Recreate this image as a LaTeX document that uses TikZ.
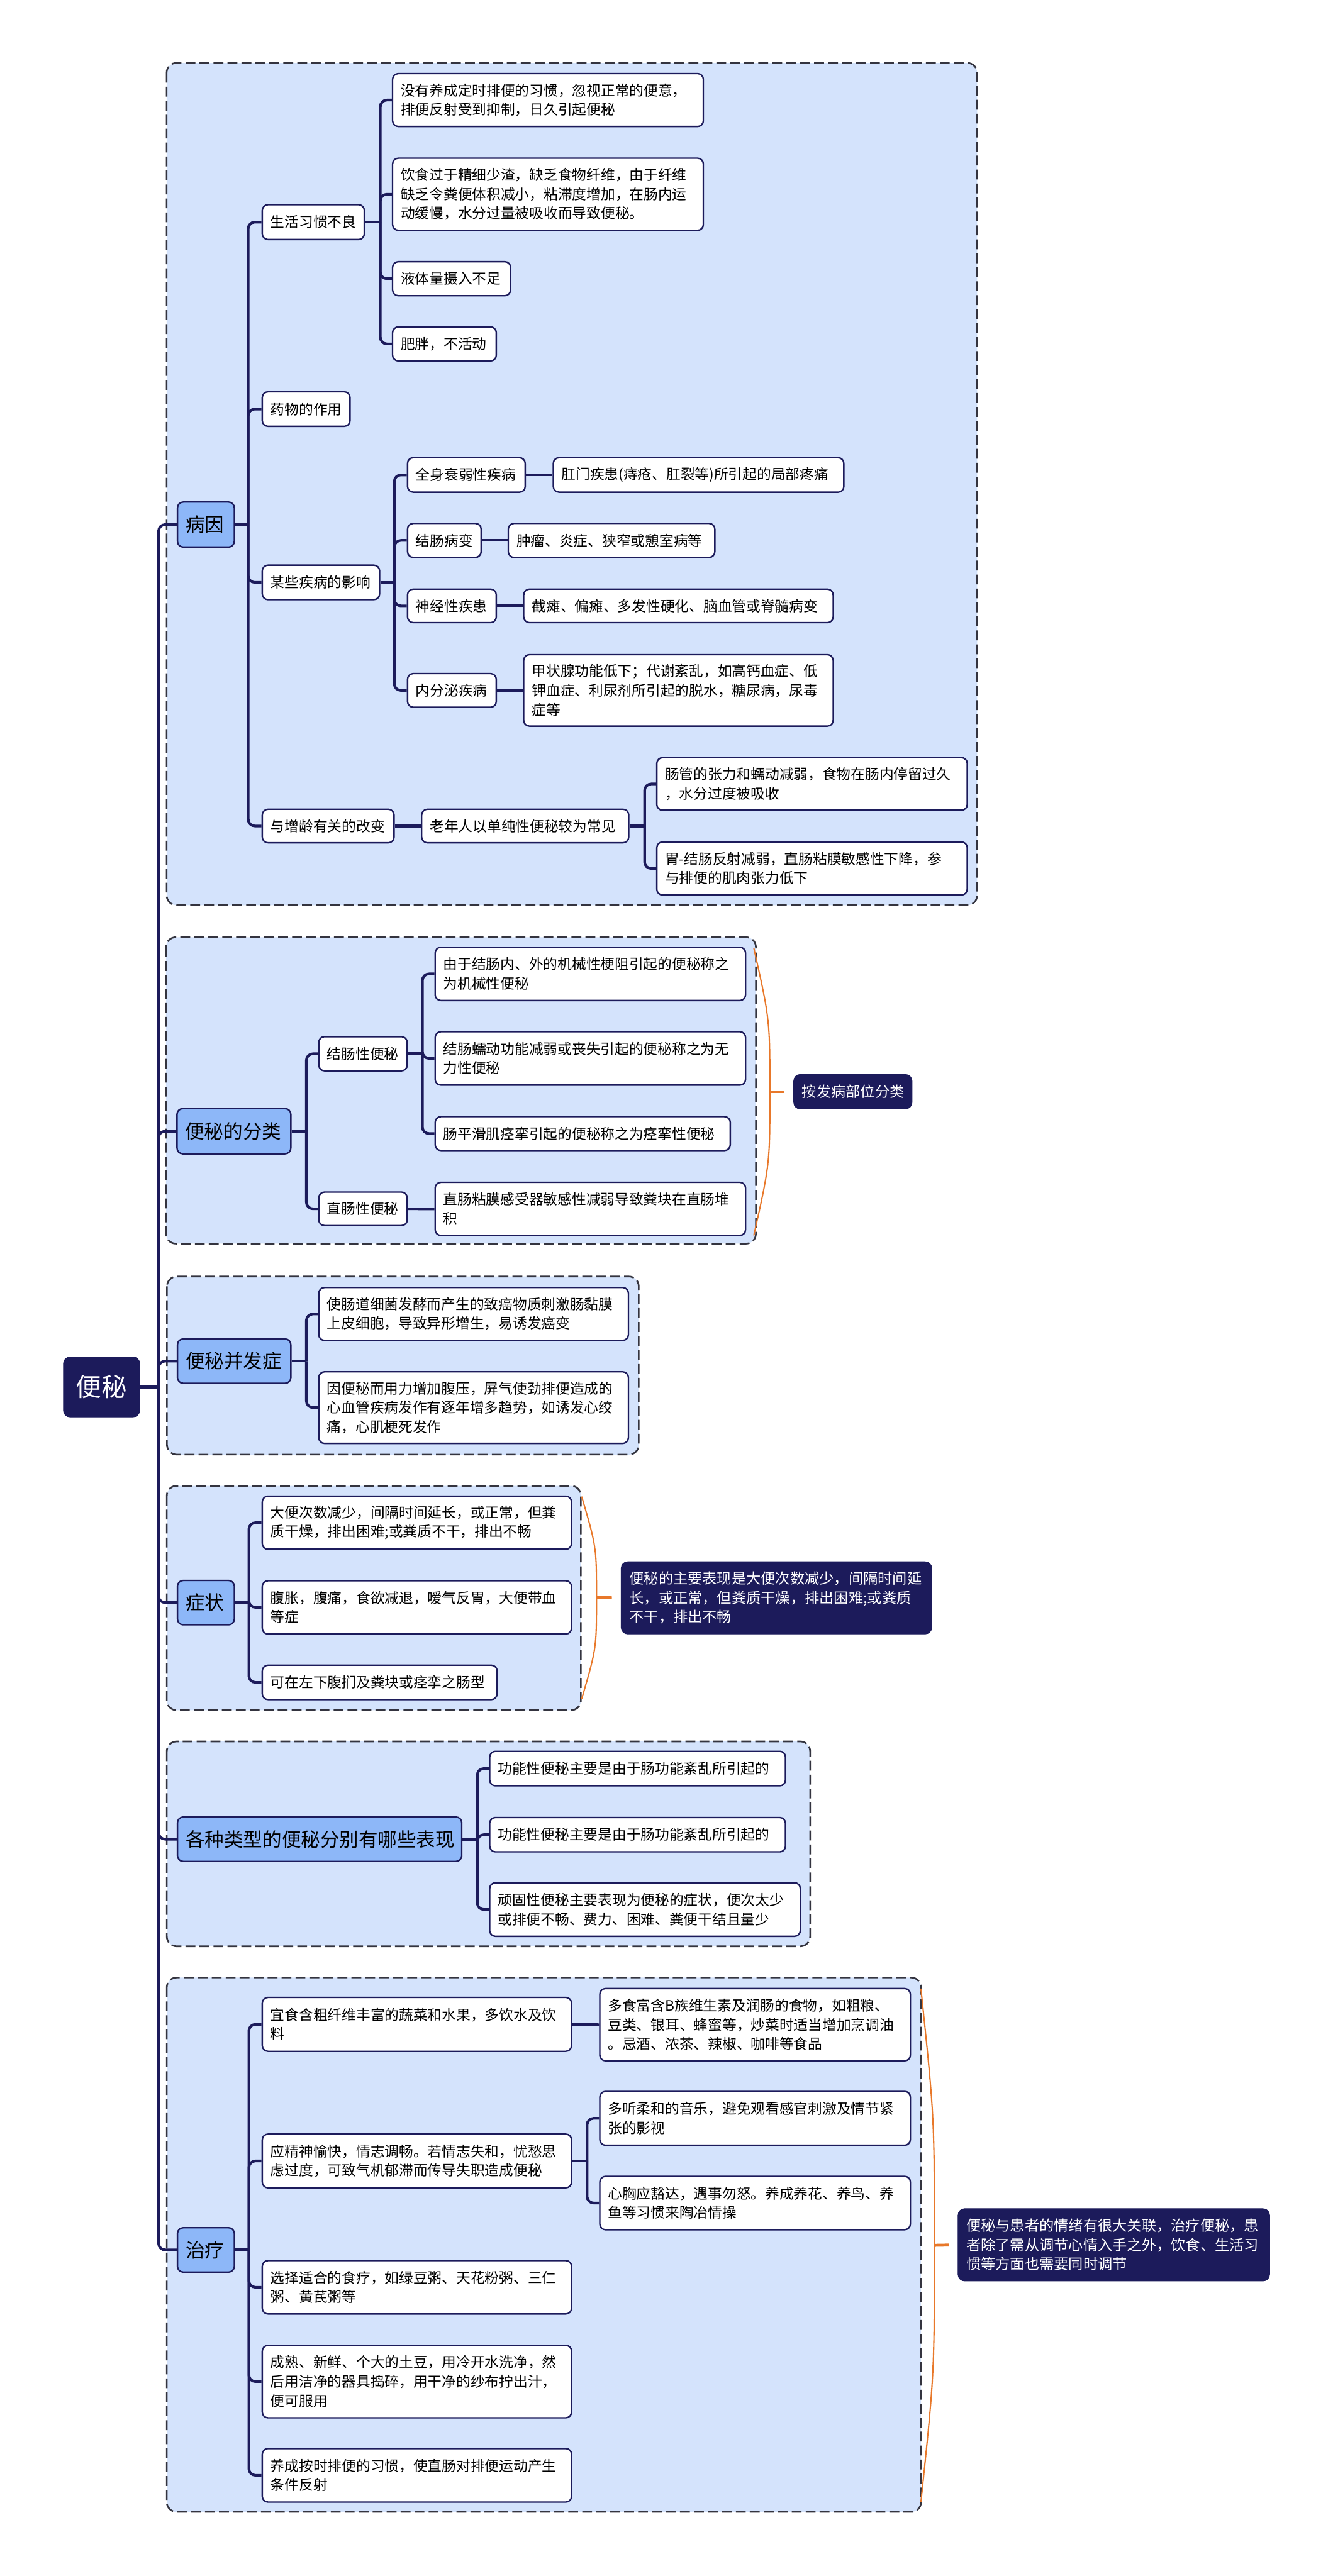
\documentclass[tikz,border=0pt]{standalone}
\usepackage{fontspec}
\setmainfont{Noto Sans CJK SC}
\usetikzlibrary{calc}
\definecolor{mnavy}{HTML}{1C1B5B}
\definecolor{grpfill}{HTML}{D4E3FC}
\definecolor{lvfill}{HTML}{8DB7F8}
\definecolor{brc}{HTML}{E8782A}
\definecolor{gline}{HTML}{34343F}
\newcommand\mkbox[7]{%
  \pgfmathsetmacro\mkW{#4-#2}%
  \pgfmathsetmacro\mkH{#5-#3}%
  \pgfmathsetmacro\mkT{#4-#2-10}%
  \pgfmathsetmacro\mkX{(#2+#4)/2}%
  \pgfmathsetmacro\mkY{(#3+#5)/2}%
  \node[#6, minimum width=\mkW pt, minimum height=\mkH pt, text width=\mkT pt] (#1) at (\mkX,\mkY) {#7};}
\newcommand\mkgrp[4]{\draw[grp] (#1,#2) rectangle (#3,#4);}
\newcommand\mkbrace[5]{%
  \pgfmathsetmacro\brM{(#3+#4)/2}%
  \pgfmathsetmacro\brU{(#3+\brM)/2}%
  \pgfmathsetmacro\brL{(\brM+#4)/2}%
  \coordinate (#1t) at (#2,#3);
  \coordinate (#1m) at (#5,\brM);
  \coordinate (#1b) at (#2,#4);
  \draw[brace] (#1t) .. controls (#5,\brU) .. (#1m) .. controls (#5,\brL) .. (#1b);}
\begin{document}
\begin{tikzpicture}[x=1pt,y=-1pt,
  rootbox/.style={fill=mnavy, draw=mnavy, rounded corners=4pt, text=white, font=\fontsize{15.5}{18}\selectfont, align=center, inner xsep=5pt, inner ysep=0pt},
  lvone/.style={fill=lvfill, draw=mnavy, line width=0.9pt, rounded corners=3.5pt, font=\fontsize{11.7}{14}\selectfont, align=left, inner xsep=5pt, inner ysep=0pt},
  leaf/.style={fill=white, draw=mnavy, line width=0.9pt, rounded corners=3.5pt, font=\fontsize{8.7}{11.7}\selectfont, align=left, inner xsep=5pt, inner ysep=0pt},
  note/.style={fill=mnavy, draw=mnavy, rounded corners=4pt, text=white, font=\fontsize{8.9}{11.7}\selectfont, align=left, inner xsep=5pt, inner ysep=0pt},
  grp/.style={fill=grpfill, draw=gline, line width=1pt, dash pattern=on 6pt off 2.5pt, rounded corners=6pt},
  conn/.style={draw=mnavy, line width=1.6pt},
  brace/.style={draw=brc, line width=0.8pt},
  tick/.style={draw=brc, line width=1.8pt, shorten >=5.5pt},
  rc/.style={rounded corners=4pt}]
\fill[white] (0,0) rectangle (811,1568);
\useasboundingbox (0,0) rectangle (811,1568);

% groups
\mkgrp{101.4}{38.3}{594.6}{551}
\mkgrp{101}{570.5}{460}{757}
\mkgrp{101.6}{777}{388.7}{885.4}
\mkgrp{101.5}{904.4}{353.5}{1041}
\mkgrp{101.5}{1060}{493}{1184.7}
\mkgrp{101.5}{1203.7}{560.5}{1529}

% root
\mkbox{root}{38.6}{826}{85}{862.5}{rootbox}{便秘}

% level one
\mkbox{A}{108}{305.6}{142.6}{333}{lvone}{病因}
\mkbox{B}{107.7}{674.8}{177}{702.3}{lvone}{便秘的分类}
\mkbox{C}{108}{815}{177}{842}{lvone}{便秘并发症}
\mkbox{D}{108}{962}{142.6}{989}{lvone}{症状}
\mkbox{E}{108}{1106}{281}{1133}{lvone}{各种类型的便秘分别有哪些表现}
\mkbox{F}{108}{1356}{142.6}{1383}{lvone}{治疗}

% 病因
\mkbox{a1}{159.6}{124.6}{221.7}{145.8}{leaf}{生活习惯不良}
\mkbox{a2}{159.6}{238.5}{213}{259.5}{leaf}{药物的作用}
\mkbox{a3}{159.6}{344}{231}{365}{leaf}{某些疾病的影响}
\mkbox{a4}{159.6}{492.6}{239.8}{513}{leaf}{与增龄有关的改变}
\mkbox{a11}{238.9}{44.8}{428}{77}{leaf}{没有养成定时排便的习惯，忽视正常的便意，\\排便反射受到抑制，日久引起便秘}
\mkbox{a12}{238.9}{96.3}{428}{140.2}{leaf}{饮食过于精细少渣，缺乏食物纤维，由于纤维\\缺乏令粪便体积减小，粘滞度增加，在肠内运\\动缓慢，水分过量被吸收而导致便秘。}
\mkbox{a13}{238.9}{159.3}{310.7}{180}{leaf}{液体量摄入不足}
\mkbox{a14}{238.9}{199}{302}{219.7}{leaf}{肥胖，不活动}
\mkbox{a31}{248}{278.6}{319.6}{299.6}{leaf}{全身衰弱性疾病}
\mkbox{a31x}{336.7}{278.6}{513.5}{299.6}{leaf}{肛门疾患(痔疮、肛裂等)所引起的局部疼痛}
\mkbox{a32}{248}{318.6}{292.8}{339.3}{leaf}{结肠病变}
\mkbox{a32x}{309.3}{318.6}{435}{339.3}{leaf}{肿瘤、炎症、狭窄或憩室病等}
\mkbox{a33}{248}{358.6}{302}{379}{leaf}{神经性疾患}
\mkbox{a33x}{318.7}{358.6}{507}{379}{leaf}{截瘫、偏瘫、多发性硬化、脑血管或脊髓病变}
\mkbox{a34}{248}{410}{302}{430.5}{leaf}{内分泌疾病}
\mkbox{a34x}{318.7}{398.5}{507}{442}{leaf}{甲状腺功能低下；代谢紊乱，如高钙血症、低\\钾血症、利尿剂所引起的脱水，糖尿病，尿毒\\症等}
\mkbox{a41}{256.6}{492.6}{382.6}{513}{leaf}{老年人以单纯性便秘较为常见}
\mkbox{a411}{399.7}{461.2}{588.6}{493.2}{leaf}{肠管的张力和蠕动减弱，食物在肠内停留过久\\，水分过度被吸收}
\mkbox{a412}{399.7}{512.5}{588.6}{544.8}{leaf}{胃-结肠反射减弱，直肠粘膜敏感性下降，参\\与排便的肌肉张力低下}

% 分类
\mkbox{b1}{194}{631}{247.8}{651.8}{leaf}{结肠性便秘}
\mkbox{b2}{194}{725.6}{247.8}{746}{leaf}{直肠性便秘}
\mkbox{b11}{264.8}{576.6}{453.7}{609}{leaf}{由于结肠内、外的机械性梗阻引起的便秘称之\\为机械性便秘}
\mkbox{b12}{264.8}{628}{453.7}{660.5}{leaf}{结肠蠕动功能减弱或丧失引起的便秘称之为无\\力性便秘}
\mkbox{b13}{264.8}{679.7}{444.4}{700.3}{leaf}{肠平滑肌痉挛引起的便秘称之为痉挛性便秘}
\mkbox{b21}{264.8}{719.7}{453.7}{752}{leaf}{直肠粘膜感受器敏感性减弱导致粪块在直肠堆\\积}
\mkbox{bn}{483}{654}{555}{675}{note}{按发病部位分类}

% 并发症
\mkbox{c1}{194}{783.7}{382.4}{815.9}{leaf}{使肠道细菌发酵而产生的致癌物质刺激肠黏膜\\上皮细胞，导致异形增生，易诱发癌变}
\mkbox{c2}{194}{835}{382.4}{878.6}{leaf}{因便秘而用力增加腹压，屏气使劲排便造成的\\心血管疾病发作有逐年增多趋势，如诱发心绞\\痛，心肌梗死发作}

% 症状
\mkbox{d1}{159.6}{910.7}{347.8}{943}{leaf}{大便次数减少，间隔时间延长，或正常，但粪\\质干燥，排出困难;或粪质不干，排出不畅}
\mkbox{d2}{159.6}{962.2}{347.8}{994.6}{leaf}{腹胀，腹痛，食欲减退，嗳气反胃，大便带血\\等症}
\mkbox{d3}{159.6}{1013.6}{302.5}{1034.5}{leaf}{可在左下腹扪及粪块或痉挛之肠型}
\mkbox{dn}{378}{950.6}{567}{994.6}{note}{便秘的主要表现是大便次数减少，间隔时间延\\长，或正常，但粪质干燥，排出困难;或粪质\\不干，排出不畅}

% 各种类型
\mkbox{e1}{298}{1066}{478}{1087}{leaf}{功能性便秘主要是由于肠功能紊乱所引起的}
\mkbox{e2}{298}{1106.3}{478}{1127.2}{leaf}{功能性便秘主要是由于肠功能紊乱所引起的}
\mkbox{e3}{298}{1146}{487}{1178.6}{leaf}{顽固性便秘主要表现为便秘的症状，便次太少\\或排便不畅、费力、困难、粪便干结且量少}

% 治疗
\mkbox{f1}{159.6}{1215.8}{347.8}{1248.6}{leaf}{宜食含粗纤维丰富的蔬菜和水果，多饮水及饮\\料}
\mkbox{f11}{365}{1210.4}{554}{1254.4}{leaf}{多食富含B族维生素及润肠的食物，如粗粮、\\豆类、银耳、蜂蜜等，炒菜时适当增加烹调油\\。忌酒、浓茶、辣椒、咖啡等食品}
\mkbox{f2}{159.6}{1299}{347.8}{1331.7}{leaf}{应精神愉快，情志调畅。若情志失和，忧愁思\\虑过度，可致气机郁滞而传导失职造成便秘}
\mkbox{f21}{365}{1273}{554}{1305.8}{leaf}{多听柔和的音乐，避免观看感官刺激及情节紧\\张的影视}
\mkbox{f22}{365}{1324.7}{554}{1357.2}{leaf}{心胸应豁达，遇事勿怒。养成养花、养鸟、养\\鱼等习惯来陶冶情操}
\mkbox{f3}{159.6}{1376}{347.8}{1408.5}{leaf}{选择适合的食疗，如绿豆粥、天花粉粥、三仁\\粥、黄芪粥等}
\mkbox{f4}{159.6}{1427.6}{347.8}{1471.7}{leaf}{成熟、新鲜、个大的土豆，用冷开水洗净，然\\后用洁净的器具捣碎，用干净的纱布拧出汁，\\便可服用}
\mkbox{f5}{159.6}{1490.4}{347.8}{1523}{leaf}{养成按时排便的习惯，使直肠对排便运动产生\\条件反射}
\mkbox{fn}{583}{1344.4}{772.6}{1388.4}{note}{便秘与患者的情绪有很大关联，治疗便秘，患\\者除了需从调节心情入手之外，饮食、生活习\\惯等方面也需要同时调节}

% spines
\path (root.east) ++(11.3,0) coordinate (sR);
\path (A.east) ++(8,0) coordinate (sA);
\path (a1.east) ++(9.3,0) coordinate (sa1);
\path (a3.east) ++(8.5,0) coordinate (sa3);
\path (a41.east) ++(9.2,0) coordinate (sa41);
\path (B.east) ++(9,0) coordinate (sB);
\path (b1.east) ++(8.8,0) coordinate (sb1);
\path (C.east) ++(9,0) coordinate (sC);
\path (D.east) ++(8.4,0) coordinate (sD);
\path (E.east) ++(9,0) coordinate (sE);
\path (F.east) ++(8.4,0) coordinate (sF);
\path (f2.east) ++(9,0) coordinate (sf2);

\draw[conn] (root.east) -- (sR);
\foreach \c in {A,B,C,D,E,F} \draw[conn,rc] (sR) |- (\c.west);
\draw[conn] (A.east) -- (sA);
\foreach \c in {a1,a2,a3,a4} \draw[conn,rc] (sA) |- (\c.west);
\draw[conn] (a1.east) -- (sa1);
\foreach \c in {a11,a12,a13,a14} \draw[conn,rc] (sa1) |- (\c.west);
\draw[conn] (a3.east) -- (sa3);
\foreach \c in {a31,a32,a33,a34} \draw[conn,rc] (sa3) |- (\c.west);
\draw[conn] (a31.east) -- (a31x.west);
\draw[conn] (a32.east) -- (a32x.west);
\draw[conn] (a33.east) -- (a33x.west);
\draw[conn] (a34.east) -- (a34x.west);
\draw[conn] (a4.east) -- (a41.west);
\draw[conn] (a41.east) -- (sa41);
\foreach \c in {a411,a412} \draw[conn,rc] (sa41) |- (\c.west);
\draw[conn] (B.east) -- (sB);
\foreach \c in {b1,b2} \draw[conn,rc] (sB) |- (\c.west);
\draw[conn] (b1.east) -- (sb1);
\foreach \c in {b11,b12,b13} \draw[conn,rc] (sb1) |- (\c.west);
\draw[conn] (b2.east) -- (b21.west);
\draw[conn] (C.east) -- (sC);
\foreach \c in {c1,c2} \draw[conn,rc] (sC) |- (\c.west);
\draw[conn] (D.east) -- (sD);
\foreach \c in {d1,d2,d3} \draw[conn,rc] (sD) |- (\c.west);
\draw[conn] (E.east) -- (sE);
\foreach \c in {e1,e2,e3} \draw[conn,rc] (sE) |- (\c.west);
\draw[conn] (F.east) -- (sF);
\foreach \c in {f1,f2,f3,f4,f5} \draw[conn,rc] (sF) |- (\c.west);
\draw[conn] (f1.east) -- (f11.west);
\draw[conn] (f2.east) -- (sf2);
\foreach \c in {f21,f22} \draw[conn,rc] (sf2) |- (\c.west);

% braces
\mkbrace{brB}{458.7}{577}{752}{468.5}
\draw[tick] (brBm) -- (bn.west);
\mkbrace{brD}{354}{911}{1034}{363}
\draw[tick] (brDm) -- (dn.west);
\mkbrace{brF}{560.4}{1210.4}{1523}{568.6}
\draw[tick] (brFm) -- (fn.west);
\end{tikzpicture}
\end{document}
